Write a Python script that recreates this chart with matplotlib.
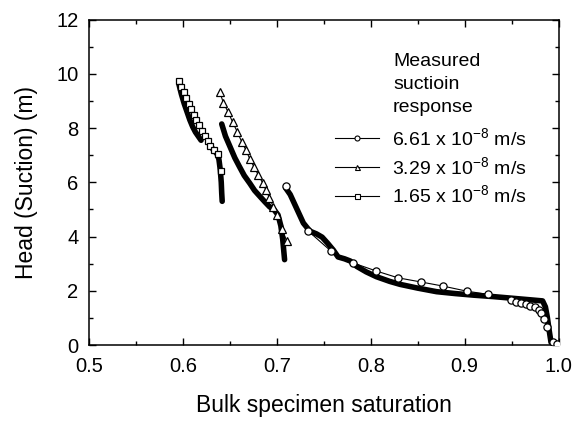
import matplotlib
matplotlib.use('Agg')
import matplotlib.pyplot as plt
from matplotlib.lines import Line2D
from matplotlib.ticker import MultipleLocator

plt.rcParams['font.family'] = ['Liberation Sans', 'DejaVu Sans']
plt.rcParams['mathtext.fontset'] = 'custom'
plt.rcParams['mathtext.rm'] = 'Liberation Sans'
plt.rcParams['mathtext.it'] = 'Liberation Sans'
plt.rcParams['mathtext.default'] = 'rm'

# measured suction, 6.61e-8 m/s (circles)
sat_661 = [0.709, 0.733, 0.757, 0.781, 0.805, 0.829, 0.853, 0.877, 0.902, 0.925,
           0.949, 0.9547, 0.9597, 0.965, 0.9696, 0.9746, 0.9795, 0.981, 0.9845,
           0.988, 0.9938, 0.9987]
head_661 = [5.85, 4.21, 3.48, 3.03, 2.74, 2.48, 2.33, 2.175, 1.99, 1.87,
            1.66, 1.60, 1.56, 1.51, 1.46, 1.39, 1.29, 1.17, 0.96,
            0.65, 0.12, 0.03]

# measured suction, 3.29e-8 m/s (triangles)
sat_329 = [0.6391, 0.6427, 0.648, 0.6527, 0.6576, 0.6622, 0.6668, 0.6711, 0.6754,
           0.680, 0.6846, 0.6882, 0.6917, 0.696, 0.6996, 0.7052, 0.7103]
head_329 = [9.32, 8.93, 8.58, 8.21, 7.86, 7.50, 7.19, 6.85, 6.57,
            6.27, 5.98, 5.71, 5.44, 5.10, 4.79, 4.29, 3.83]

# measured suction, 1.65e-8 m/s (squares)
sat_165 = [0.5951, 0.5979, 0.601, 0.603, 0.6057, 0.608, 0.611, 0.6136, 0.6167,
           0.620, 0.623, 0.626, 0.629, 0.6325, 0.637, 0.6403]
head_165 = [9.73, 9.51, 9.31, 9.10, 8.90, 8.69, 8.49, 8.29, 8.11,
            7.90, 7.71, 7.53, 7.35, 7.20, 7.04, 6.40]

# dense response curves (thick black)
dense_sat_a = [0.5955, 0.598, 0.601, 0.604, 0.607, 0.610, 0.613, 0.616, 0.619]
dense_head_a = [9.6, 9.25, 8.9, 8.6, 8.3, 8.05, 7.85, 7.7, 7.55]
dense_sat_b = [0.628, 0.632, 0.636, 0.638, 0.6395, 0.6405, 0.641, 0.6415]
dense_head_b = [7.4, 7.2, 7.05, 6.85, 6.45, 6.0, 5.6, 5.3]
dense_sat_c = [0.641, 0.645, 0.650, 0.655, 0.660, 0.665, 0.671, 0.676, 0.682,
               0.687, 0.692, 0.697, 0.701, 0.704, 0.706, 0.708]
dense_head_c = [8.15, 7.7, 7.3, 6.9, 6.57, 6.25, 5.96, 5.7, 5.47,
                5.28, 5.1, 4.98, 4.8, 4.4, 3.9, 3.15]
dense_sat_d = [0.709, 0.714, 0.720, 0.728, 0.735, 0.742, 0.748, 0.754, 0.760,
               0.765, 0.772, 0.778, 0.785, 0.795, 0.806, 0.820, 0.831, 0.850,
               0.870, 0.890, 0.910, 0.930, 0.950, 0.970, 0.983, 0.986, 0.988,
               0.990, 0.992]
dense_head_d = [5.8, 5.55, 5.1, 4.5, 4.2, 4.1, 3.98, 3.75, 3.5,
                3.25, 3.18, 3.1, 2.9, 2.7, 2.52, 2.35, 2.24, 2.1,
                1.97, 1.9, 1.84, 1.79, 1.73, 1.67, 1.63, 1.41, 1.04,
                0.55, 0.1]

labels = ['6.61 x 10$^{-8}$ m/s', '3.29 x 10$^{-8}$ m/s', '1.65 x 10$^{-8}$ m/s']

fig = plt.figure(figsize=(5.77, 4.24), dpi=100)
ax = fig.add_axes([0.155, 0.186, 0.813, 0.768])

# thick dense curves
for xs, ys in [(dense_sat_a, dense_head_a), (dense_sat_b, dense_head_b),
               (dense_sat_c, dense_head_c), (dense_sat_d, dense_head_d)]:
    ax.plot(xs, ys, color='black', lw=4, solid_capstyle='round', zorder=2)

# measured series with markers
ax.plot(sat_661, head_661, '-o', color='black', lw=0.8, ms=5.2,
        mfc='white', mec='black', mew=0.9, zorder=3)
ax.plot(sat_329, head_329, '-^', color='black', lw=0.8, ms=5.2,
        mfc='white', mec='black', mew=0.9, zorder=3)
ax.plot(sat_165, head_165, '-s', color='black', lw=0.8, ms=4.8,
        mfc='white', mec='black', mew=0.9, zorder=3)

ax.set_xlim(0.5, 1.0)
ax.set_ylim(0, 12)
ax.xaxis.set_major_locator(MultipleLocator(0.1))
ax.xaxis.set_minor_locator(MultipleLocator(0.05))
ax.yaxis.set_major_locator(MultipleLocator(2))
ax.yaxis.set_minor_locator(MultipleLocator(1))
ax.set_xticklabels([f'{v:.1f}' for v in ax.get_xticks()])
ax.tick_params(which='both', direction='in', top=True, right=True,
               labelsize=14.5, width=1)
ax.tick_params(which='major', length=5)
ax.tick_params(axis='x', which='major', pad=8.5)
ax.tick_params(axis='y', which='major', pad=8)
ax.tick_params(which='minor', length=3)
for sp in ax.spines.values():
    sp.set_linewidth(1.1)

ax.set_xlabel('Bulk specimen saturation', fontsize=16.5, labelpad=13)
ax.set_ylabel('Head (Suction) (m)', fontsize=16.5, labelpad=13)

# legend
ax.text(0.647, 0.897, 'Measured\nsuctioin\nresponse', transform=ax.transAxes,
        fontsize=14, va='top', ha='left', linespacing=1.45)
handles = [Line2D([], [], color='black', lw=0.8, marker=m, ms=3.6, mfc='white',
                  mec='black', mew=0.8) for m in ['o', '^', 's']]
ax.legend(handles, labels, loc='center left', bbox_to_anchor=(0.523, 0.548),
          frameon=False, fontsize=14, handlelength=2.3, handletextpad=0.65,
          labelspacing=0.36, borderaxespad=0, borderpad=0)

plt.savefig('out.png', dpi=100)
